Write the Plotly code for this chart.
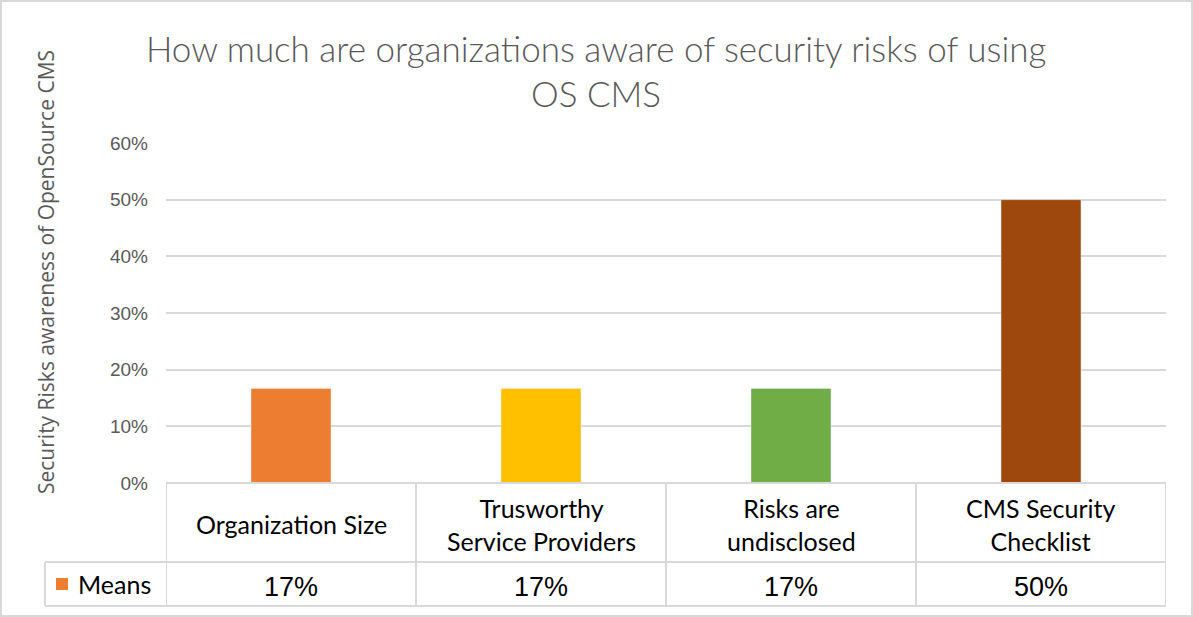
import plotly.graph_objects as go

categories = ["Organization Size", "Trusworthy Service Providers", "Risks are undisclosed", "CMS Security Checklist"]
table_labels = ["Organization Size", "Trusworthy<br>Service Providers", "Risks are<br>undisclosed", "CMS Security<br>Checklist"]
means = [1/6, 1/6, 1/6, 0.5]
colors = ["#ED7D31", "#FFC000", "#70AD47", "#9E480E"]
series_name = "Means"
title_lines = ["How much are organizations aware of security risks of using", "OS CMS"]
y_title = "Security Risks awareness of OpenSource CMS"

W, H = 1193, 617
L, R, T, B = 166, 27, 143, 134
pw, ph = W - L - R, H - T - B

def px(x):
    return (x - L) / pw

def py(y):
    return (H - B - y) / ph

fig = go.Figure()
fig.add_trace(go.Bar(
    x=list(range(len(categories))), y=means, marker_color=colors,
    name=series_name, width=0.32, showlegend=False,
))

grid = "#d9d9d9"
shapes = []
shapes.append(dict(type="line", xref="paper", yref="paper", x0=px(45), x1=1, y0=py(562), y1=py(562), line=dict(color=grid, width=2)))
shapes.append(dict(type="line", xref="paper", yref="paper", x0=px(45), x1=1, y0=py(606), y1=py(606), line=dict(color=grid, width=2)))
shapes.append(dict(type="line", xref="paper", yref="paper", x0=0, x1=1, y0=0, y1=0, line=dict(color=grid, width=2)))
for i in range(len(categories) + 1):
    shapes.append(dict(type="line", xref="x", yref="paper", x0=i - 0.5, x1=i - 0.5, y0=py(606), y1=0, line=dict(color=grid, width=2)))
shapes.append(dict(type="line", xref="paper", yref="paper", x0=px(45), x1=px(45), y0=py(606), y1=py(562), line=dict(color=grid, width=2)))
shapes.append(dict(type="rect", xref="paper", yref="paper", x0=px(56), x1=px(68), y0=py(590), y1=py(578), fillcolor=colors[0], line=dict(width=0)))
shapes.append(dict(type="rect", xref="paper", yref="paper", x0=px(1), x1=px(W - 1), y0=py(H - 1), y1=py(1), line=dict(color=grid, width=2)))

ann = []
for i, (lab, v) in enumerate(zip(table_labels, means)):
    ann.append(dict(x=i, xref="x", y=py(524), yref="paper", text=lab, showarrow=False,
                    font=dict(family="Lato", size=25, color="#000000"), yanchor="middle"))
    ann.append(dict(x=i, xref="x", y=py(587), yref="paper", text=f"{v:.0%}", showarrow=False,
                    font=dict(family="Liberation Sans", size=27, color="#000000"), yanchor="middle"))
ann.append(dict(x=px(76), xref="paper", y=py(584), yref="paper", text=series_name, showarrow=False, xanchor="left",
                font=dict(family="Lato", size=25, color="#000000"), yanchor="middle"))
ann.append(dict(x=px(596), xref="paper", y=py(48), yref="paper", text=title_lines[0], showarrow=False,
                font=dict(family="Lato", size=35, color="#595959", weight=300), yanchor="middle"))
ann.append(dict(x=px(596), xref="paper", y=py(93), yref="paper", text=title_lines[1], showarrow=False,
                font=dict(family="Lato", size=35, color="#595959", weight=300), yanchor="middle"))
ann.append(dict(x=px(46), xref="paper", y=py(272), yref="paper", text=y_title, showarrow=False, textangle=-90,
                font=dict(family="Open Sans", size=21, color="#595959"), xanchor="center", yanchor="middle"))

fig.update_layout(
    width=W, height=H, margin=dict(l=L, r=R, t=T, b=B),
    paper_bgcolor="white", plot_bgcolor="white",
    shapes=shapes, annotations=ann, showlegend=False,
    xaxis=dict(range=[-0.5, 3.5], showticklabels=False, showgrid=False, zeroline=False, showline=False, ticks=""),
    yaxis=dict(range=[0, 0.6], tickvals=[0, 0.1, 0.2, 0.3, 0.4, 0.5, 0.6], tickformat=".0%",
               showgrid=True, gridcolor=grid, gridwidth=2, zeroline=False, showline=False,
               tickfont=dict(family="Liberation Sans", size=19, color="#595959"), ticks="", ticklabelstandoff=17),
    bargap=0.68,
)

fig.write_html("out.html")
